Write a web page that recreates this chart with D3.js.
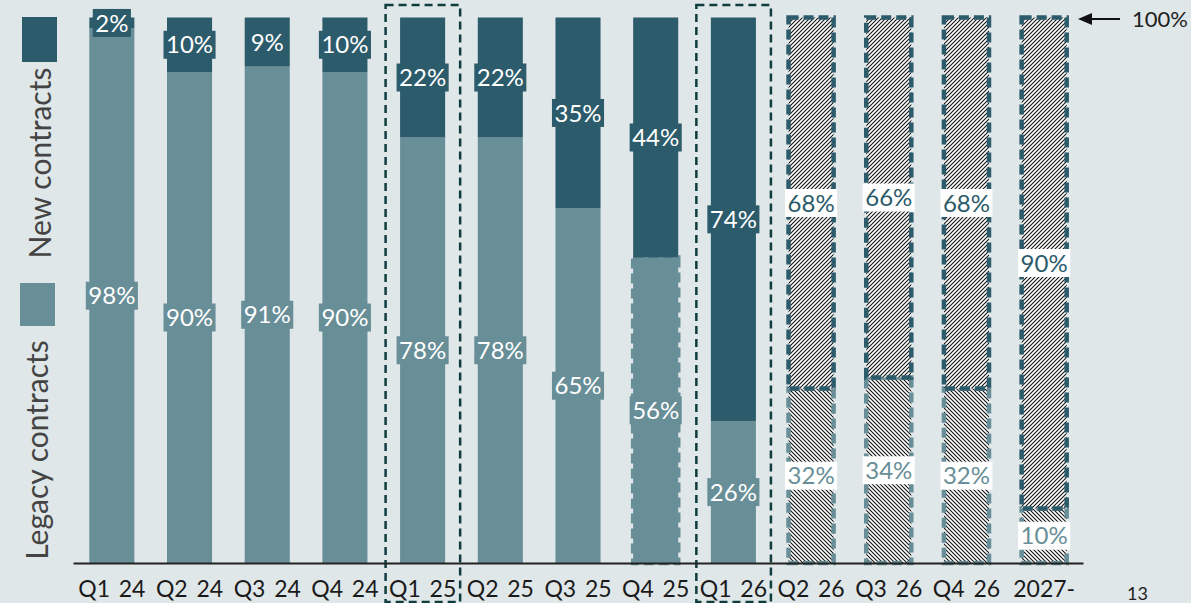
<!DOCTYPE html>
<html>
<head>
<meta charset="utf-8">
<script src="https://cdn.jsdelivr.net/npm/d3@7"></script>
<style>
  body { margin: 0; background: #e0e7e9; }
  svg { display: block; font-family: Lato, "DejaVu Sans", sans-serif; }
</style>
</head>
<body>
<div class="chart"></div>
<script>
var periods = ["Q1 24", "Q2 24", "Q3 24", "Q4 24", "Q1 25", "Q2 25", "Q3 25", "Q4 25", "Q1 26", "Q2 26", "Q3 26", "Q4 26", "2027-"];
var legacyShare = [98, 90, 91, 90, 78, 78, 65, 56, 26, 32, 34, 32, 10];
var newShare = [2, 10, 9, 10, 22, 22, 35, 44, 74, 68, 66, 68, 90];
var forecastPeriods = ["Q2 26", "Q3 26", "Q4 26", "2027-"];
var highlightPeriods = ["Q1 25", "Q1 26"];

var dark = "#2c5b6b", light = "#688e97", boxColor = "#0f3c3e";

var svg = d3.select(".chart").append("svg").attr("width", 1191).attr("height", 603);

var defs = svg.append("defs");
function hatch(id, dir) {
	var p = defs.append("pattern").attr("id", id).attr("patternUnits", "userSpaceOnUse")
		.attr("width", 4).attr("height", 4);
	p.append("rect").attr("width", 4).attr("height", 4).attr("fill", "#fff");
	if (dir == 1) {
		p.append("path").attr("d", "M-1,1 l2,-2 M0,4 l4,-4 M3,5 l2,-2").attr("stroke", "#111").attr("stroke-width", 1.1);
	} else {
		p.append("path").attr("d", "M-1,3 l2,2 M0,0 l4,4 M3,-1 l2,2").attr("stroke", "#111").attr("stroke-width", 1.1);
	}
}
hatch("hatchNew", 1);
hatch("hatchOld", -1);

var x = d3.scaleBand().domain(periods).range([73, 1083]).paddingInner(0.42).paddingOuter(0.21);
var y = d3.scaleLinear().domain([0, 100]).range([563, 17.5]);

var rows = periods.map(function(p, i) {
	return { period: p, legacy: legacyShare[i], fresh: newShare[i], forecast: forecastPeriods.indexOf(p) >= 0 };
});

// highlight boxes
svg.selectAll(".hl").data(highlightPeriods).enter().append("rect")
	.attr("x", function(d) { return x(d) - 14.5; })
	.attr("y", 5)
	.attr("width", x.bandwidth() + 29.5)
	.attr("height", 597)
	.attr("fill", "none").attr("stroke", boxColor).attr("stroke-width", 2.5)
	.attr("stroke-dasharray", "8,5");

var bars = svg.selectAll(".bar").data(rows).enter().append("g");

// legacy segment
bars.append("rect")
	.attr("x", function(d) { return x(d.period); })
	.attr("y", function(d) { return y(d.legacy); })
	.attr("width", x.bandwidth())
	.attr("height", function(d) { return y(0) - y(d.legacy); })
	.attr("fill", function(d) { return d.forecast ? "url(#hatchOld)" : light; })
	.attr("stroke", function(d) { return d.forecast || d.period == "Q4 25" ? light : "none"; })
	.attr("stroke-width", 4.5)
	.attr("stroke-dasharray", "10,5");

// new segment
bars.append("rect")
	.attr("x", function(d) { return x(d.period); })
	.attr("y", function(d) { return y(100); })
	.attr("width", x.bandwidth())
	.attr("height", function(d) { return y(d.legacy) - y(100); })
	.attr("fill", function(d) { return d.forecast ? "url(#hatchNew)" : dark; })
	.attr("stroke", function(d) { return d.forecast ? dark : "none"; })
	.attr("stroke-width", 4.5)
	.attr("stroke-dasharray", "10,5");

// labels
function addLabel(sel, val, mid, col) {
	var g = sel.append("g").attr("transform", function(d) {
		return "translate(" + (x(d.period) + x.bandwidth() / 2) + "," + mid(d) + ")";
	});
	g.append("rect").attr("y", -14).attr("height", 28)
		.attr("fill", function(d) { return d.forecast ? "#fff" : col; });
	var t = g.append("text").attr("text-anchor", "middle").attr("dy", "0.36em")
		.style("font-size", "24px")
		.attr("fill", function(d) { return d.forecast ? col : "#fff"; })
		.text(function(d) { return val(d) + "%"; });
	t.each(function() {
		var w = this.getComputedTextLength() + 5;
		d3.select(this.parentNode).select("rect").attr("x", -w / 2).attr("width", w);
	});
}
addLabel(bars, function(d) { return d.fresh; }, function(d) { return (y(100) + y(d.legacy)) / 2; }, dark);
addLabel(bars, function(d) { return d.legacy; }, function(d) { return (y(0) + y(d.legacy)) / 2; }, light);

// x axis
var axis = svg.append("g").attr("transform", "translate(0," + y(0) + ")")
	.call(d3.axisBottom(x).tickSize(0).tickPadding(18).tickFormat(function(d) { return d.replace(" ", "\u00a0\u2009"); }));
axis.select(".domain").attr("stroke", "#222").attr("stroke-width", 2);
axis.selectAll("text").style("font-size", "23px").style("font-family", "Lato, sans-serif").attr("fill", "#1a1a1a");

// legend
svg.append("rect").attr("x", 22).attr("y", 17).attr("width", 35).attr("height", 45).attr("fill", dark);
svg.append("rect").attr("x", 20).attr("y", 283).attr("width", 35).attr("height", 43).attr("fill", light);
svg.append("text").attr("transform", "translate(51,163) rotate(-90)").attr("text-anchor", "middle")
	.style("font-size", "30px").attr("fill", "#444").text("New contracts");
svg.append("text").attr("transform", "translate(48,450) rotate(-90)").attr("text-anchor", "middle")
	.style("font-size", "30px").attr("fill", "#444").text("Legacy contracts");

// 100% marker
svg.append("line").attr("x1", 1090).attr("x2", 1120).attr("y1", y(100) + 1.5).attr("y2", y(100) + 1.5)
	.attr("stroke", "#111").attr("stroke-width", 2);
svg.append("path").attr("d", "M1078," + (y(100) + 1.5) + " l14,-6 l0,12 z").attr("fill", "#111");
svg.append("text").attr("x", 1132).attr("y", y(100) + 9.5).style("font-size", "22px").attr("fill", "#222").text("100%");

// page number
svg.append("text").attr("x", 1127).attr("y", 600).style("font-size", "18px").attr("fill", "#222").text("13");
</script>
</body>
</html>
